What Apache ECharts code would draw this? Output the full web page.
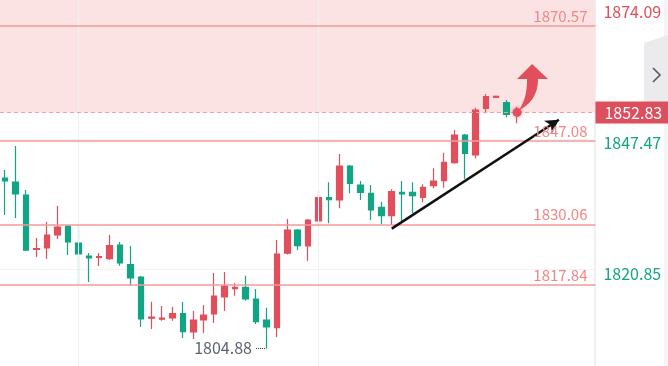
<!DOCTYPE html>
<html><head><meta charset="utf-8">
<script src="https://cdn.jsdelivr.net/npm/echarts@6/dist/echarts.min.js"></script>
<style>html,body{margin:0;padding:0;background:#fff}#c{width:668px;height:366px}</style>
</head><body><div id="c"></div>
<script>
// ---- data ----
const opens  = [1839.48,1838.67,1836.02,1824.93,1825.23,1827.88,1829.71,1826.25,1823.60,1823.30,
                1823.05,1825.84,1821.83,1819.33,1810.94,1810.74,1810.98,1811.86,1808.13,1810.57,
                1811.80,1815.26,1816.95,1817.23,1814.85,1810.57,1809.01,1824.16,1828.90,1825.64,
                1830.73,1835.47,1835.00,1841.93,1838.06,1836.37,1833.52,1831.81,1836.57,1836.57,
                1835.55,1837.92,1838.93,1842.60,1848.24,1844.17,1853.67,1855.91,1854.81,1852.55];
const closes = [1838.87,1836.23,1824.82,1825.13,1827.88,1829.51,1826.45,1824.01,1823.20,1823.50,
                1825.70,1822.18,1819.12,1810.78,1811.14,1810.94,1811.86,1808.19,1810.57,1811.59,
                1815.46,1817.50,1817.23,1814.85,1810.23,1809.15,1824.01,1828.90,1825.70,1830.93,
                1835.47,1835.06,1841.93,1838.40,1836.57,1832.97,1831.81,1836.69,1836.23,1835.88,
                1837.59,1838.87,1842.68,1848.24,1844.51,1853.33,1856.03,1856.12,1852.45,1852.83];
const lows   = [1831.95,1831.34,1824.62,1823.40,1822.99,1827.06,1823.81,1817.90,1818.31,1821.57,
                1822.79,1821.63,1817.56,1809.15,1808.74,1810.43,1810.43,1806.91,1806.71,1807.93,
                1809.96,1812.41,1815.52,1814.50,1809.76,1804.88,1807.11,1823.90,1824.82,1822.59,
                1829.71,1830.26,1833.31,1836.37,1835.00,1830.93,1830.12,1829.91,1830.59,1832.30,
                1834.54,1837.39,1837.51,1842.40,1839.28,1843.49,1852.65,1855.91,1851.84,1850.62];
const highs  = [1841.11,1846.00,1837.04,1827.27,1830.53,1833.78,1829.92,1829.92,1824.21,1824.21,
                1827.88,1826.45,1825.64,1819.53,1814.30,1813.42,1813.22,1814.24,1812.41,1813.63,
                1820.14,1820.35,1818.05,1819.59,1816.89,1813.08,1826.86,1831.14,1829.10,1831.14,
                1836.84,1838.61,1844.37,1842.13,1838.87,1838.06,1834.66,1837.18,1838.87,1838.61,
                1838.20,1841.46,1844.63,1849.25,1848.44,1853.79,1856.58,1856.12,1855.36,1854.00];
const categories = Array.from({length: 57}, (_, i) => 'K' + (i + 1));
const axisTicks = [1820.85, 1847.47, 1874.09];
const levels = [1870.57, 1847.08, 1830.06, 1817.84];
const lastPrice = 1852.83;
const lowPrice = 1804.88;
const lowIndex = 25;
const yMin = 1801.21, yMax = 1875.72;
const trendStart = [37, 1829.18], trendEnd = [53, 1851.35];
const vLines = [7, 30];
const upArrowAt = [50, 1858.0];

// ---- styles ----
const RED = '#e04f5b', GREEN = '#12a584';
const FONT = '"Noto Sans CJK SC","Noto Sans",sans-serif';

const candles = opens.map((o, i) => [o, closes[i], lows[i], highs[i]]);
const chart = echarts.init(document.getElementById('c'), null, {renderer: 'canvas'});

chart.setOption({
  animation: false,
  backgroundColor: '#fff',
  grid: {left: -4.765, right: 72.55, top: 0, bottom: 0, containLabel: false},
  xAxis: {
    type: 'category', data: categories, boundaryGap: true,
    axisLine: {show: false}, axisTick: {show: false}, axisLabel: {show: false}, splitLine: {show: false}
  },
  yAxis: {
    type: 'value', position: 'right', min: yMin, max: yMax, scale: true,
    axisLine: {show: false},
    axisTick: {show: false, customValues: axisTicks},
    splitLine: {show: true, customValues: axisTicks, lineStyle: {color: '#f2f2f4', width: 1}},
    axisLabel: {
      customValues: axisTicks, margin: 8, fontSize: 16, fontFamily: FONT,
      verticalAlign: 'top', lineHeight: 8,
      formatter: v => v.toFixed(2),
      color: v => (v > lastPrice ? RED : GREEN)
    }
  },
  graphic: [
    {type: 'rect', shape: {x: 594, y: 0, width: 2, height: 366}, style: {fill: '#eff0f5'}},
    {type: 'rect', shape: {x: 664, y: 0, width: 4, height: 366}, style: {fill: '#f4f5f9'}},
    {type: 'polygon', shape: {points: [[644, 43], [668, 35], [668, 110], [644, 110]]}, style: {fill: '#ebebee'}},
    {type: 'polyline', shape: {points: [[653, 68], [660, 75], [653, 82]]}, style: {stroke: '#555a66', lineWidth: 1.6, fill: null}}
  ],
  series: [
    {
      type: 'line', data: [], z: 1, silent: true,
      markArea: {
        silent: true,
        itemStyle: {color: '#fbe3e4'},
        data: [[{yAxis: lastPrice}, {yAxis: yMax}]]
      },
      markLine: {
        silent: true, symbol: ['none', 'none'], animation: false,
        label: {show: false},
        data: vLines.map(i => ({xAxis: i, lineStyle: {color: '#f1f1f3', width: 1, type: 'solid'}, label: {show: false}}))
          .concat(levels.map(v => ({
            yAxis: v,
            lineStyle: {color: '#f59898', width: 1.6, type: 'solid'},
            label: {show: true, position: 'insideEndTop', formatter: v.toFixed(2), color: '#f48585',
                    fontSize: 15, fontFamily: FONT, distance: [8, 2]}
          })))
          .concat([{
            yAxis: lastPrice,
            lineStyle: {color: '#eaa3aa', width: 1, type: [4, 3]},
            label: {show: true, position: 'end', formatter: lastPrice.toFixed(2), color: '#fff',
                    backgroundColor: '#dd4f5c', padding: [3, 9, 3, 9], fontSize: 16, lineHeight: 16,
                    fontFamily: FONT, distance: 0}
          }])
      }
    },
    {
      type: 'candlestick', z: 3, data: candles, barWidth: 6,
      itemStyle: {color: RED, color0: GREEN, borderColor: RED, borderColor0: GREEN, borderWidth: 1.2},
      markLine: {
        silent: true, animation: false, symbol: ['none', 'none'],
        label: {show: false},
        data: [
          [
            {coord: trendStart, symbol: 'none', lineStyle: {color: '#111', width: 2.5, type: 'solid'}},
            {coord: trendEnd, symbol: 'arrow', symbolSize: [11, 13], lineStyle: {color: '#111', width: 2.5, type: 'solid'}}
          ],
          [
            {coord: [lowIndex - 1, lowPrice], symbol: 'none', lineStyle: {color: '#333', width: 1, type: 'dotted'},
             label: {show: true, position: 'start', formatter: lowPrice.toFixed(2), color: '#5c6370',
                     fontSize: 16, fontFamily: FONT, distance: 4, padding: [10, 0, 0, 0]}},
            {coord: [lowIndex, lowPrice], symbol: 'none'}
          ]
        ]
      },
      markPoint: {
        silent: true, animation: false,
        label: {show: false},
        data: [
          {coord: [candles.length - 1, lastPrice], symbol: 'circle', symbolSize: 9,
           itemStyle: {color: RED, shadowBlur: 4, shadowColor: 'rgba(224,79,91,0.6)'}},
          {coord: upArrowAt, symbol: 'path://M15 0 L31 15 L21 15 C21 31 13 41 2 46 C8 37 10 27 10 15 L0 15 Z',
           symbolSize: [31, 46], symbolOffset: [5, 0], itemStyle: {color: RED}}
        ]
      }
    }
  ]
});
</script></body></html>
